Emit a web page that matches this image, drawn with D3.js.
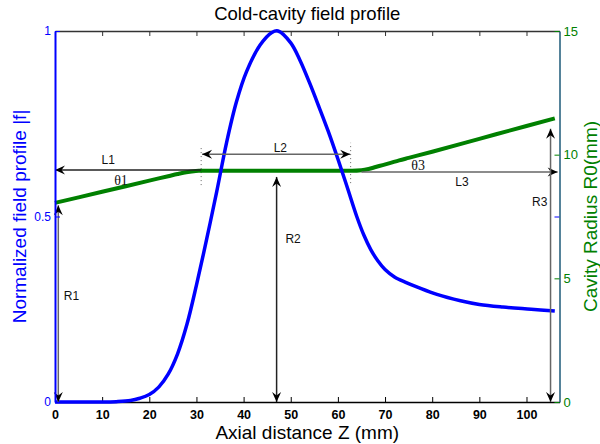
<!DOCTYPE html>
<html>
<head>
<meta charset="utf-8">
<script src="https://cdn.jsdelivr.net/npm/d3@7"></script>
<style>
  body { margin: 0; background: #fff; }
  text { font-family: "Liberation Sans", Arial, Helvetica, sans-serif; }
</style>
</head>
<body>
<div id="chart"></div>
<script>
// field profile |f| vs axial distance (mm)
const zField = [0, 5, 10, 13, 16, 18, 20, 22, 24, 26, 28, 30, 32.2, 34.3, 36.4, 38.5, 40.6, 43.5, 46, 47.3,
  50, 52, 54, 56, 58, 60, 62, 64, 65.5, 67, 68.5, 70, 72, 74.5, 77, 81, 86, 90, 95, 101, 106];
const fField = [0, 0, 0, 0.001, 0.004, 0.01, 0.02, 0.04, 0.075, 0.13, 0.21, 0.315, 0.441, 0.567, 0.7, 0.81, 0.89, 0.962, 0.996, 1,
  0.968, 0.92, 0.86, 0.795, 0.728, 0.655, 0.578, 0.5, 0.45, 0.41, 0.38, 0.357, 0.337, 0.322, 0.309, 0.29, 0.273, 0.263, 0.256, 0.25, 0.245];

// cavity radius R0 (mm)
const zRadius = [0, 10, 20, 24, 26, 27.5, 29, 30.5, 32, 40, 50, 60, 63, 65, 66.5, 68, 69.5, 71, 73, 75, 80, 90, 100, 106];
const rRadius = [8.05, 8.5, 8.95, 9.13, 9.22, 9.28, 9.32, 9.345, 9.35, 9.35, 9.35, 9.35, 9.35, 9.37, 9.42, 9.5, 9.58, 9.66, 9.77, 9.87, 10.12, 10.64, 11.16, 11.47];

const xTicks = [0, 10, 20, 30, 40, 50, 60, 70, 80, 90, 100];
const leftTicks = [0, 0.5, 1];
const rightTicks = [0, 5, 10, 15];

// annotation arrows, in data units (z, R0)
const hArrows = [
  {name: "L1", z0: 31, z1: 0, r: 9.38, heads: "end", color: "#222"},
  {name: "L2", z0: 31.2, z1: 62.6, r: 10.02, heads: "both", color: "#666"},
  {name: "L3", z0: 65, z1: 106.6, r: 9.3, heads: "end", color: "#666"}
];
const vArrows = [
  {name: "R1", z: 0.7, r0: 0, r1: 7.95, color: "#666"},
  {name: "R2", z: 47, r0: 0, r1: 9.1, color: "#222"},
  {name: "R3", z: 105.1, r0: 0, r1: 11.05, color: "#666"}
];
const dottedLines = [{z: 31, r0: 8.77, r1: 10.35}, {z: 62.7, r0: 8.85, r1: 10.48}];
const labels = [
  {text: "L1", z: 11.3, r: 9.78, serif: false},
  {text: "\u03b81", z: 14, r: 8.95, serif: true},
  {text: "L2", z: 47.8, r: 10.25, serif: false},
  {text: "\u03b83", z: 77, r: 9.56, serif: true},
  {text: "L3", z: 86.3, r: 8.88, serif: false},
  {text: "R1", z: 3.5, r: 4.3, serif: false},
  {text: "R2", z: 50.5, r: 6.6, serif: false},
  {text: "R3", z: 102.8, r: 8.1, serif: false}
];

let margin = {top: 31, right: 40.5, bottom: 42, left: 55};
let width = 600 - margin.left - margin.right;
let height = 444 - margin.top - margin.bottom;

let svg = d3.select("#chart").append("svg")
  .attr("width", 600)
  .attr("height", 444);

let g = svg.append("g")
  .attr("transform", "translate(" + margin.left + "," + margin.top + ")");

let x = d3.scaleLinear().domain([0, 107]).range([0, width]);
let yL = d3.scaleLinear().domain([0, 1]).range([height, 0]);
let yR = d3.scaleLinear().domain([0, 15]).range([height, 0]);

// arrowhead
let defs = svg.append("defs");
defs.append("marker")
  .attr("id", "head")
  .attr("viewBox", "-11 -5 12 10")
  .attr("refX", 0).attr("refY", 0)
  .attr("markerWidth", 12).attr("markerHeight", 10)
  .attr("markerUnits", "userSpaceOnUse")
  .attr("orient", "auto-start-reverse")
  .append("path")
  .attr("d", "M0,0 L-10,-4.5 L-6.5,0 L-10,4.5 Z")
  .attr("fill", "#000");

// axes
let xBottom = d3.axisBottom(x).tickValues(xTicks).tickSizeInner(-5).tickSizeOuter(0).tickPadding(8);
let xTop = d3.axisTop(x).tickValues(xTicks).tickSizeInner(-5).tickSizeOuter(0).tickFormat("");
let axL = d3.axisLeft(yL).tickValues(leftTicks).tickSizeInner(-5).tickSizeOuter(0).tickPadding(4).tickFormat(d3.format("~g"));
let axR = d3.axisRight(yR).tickValues(rightTicks).tickSizeInner(-5).tickSizeOuter(0).tickPadding(4);
let axRmirror = d3.axisRight(yL).tickValues([0.5]).tickSizeInner(-5).tickSizeOuter(0).tickFormat("");

g.append("g").attr("class", "x-top").call(xTop)
  .call(a => a.select(".domain").attr("stroke", "#333").attr("stroke-width", 1.5))
  .call(a => a.selectAll(".tick line").attr("stroke", "#333"));

g.append("g").attr("class", "x-axis").attr("transform", "translate(0," + height + ")").call(xBottom)
  .call(a => a.select(".domain").attr("stroke", "#000").attr("stroke-width", 1.5))
  .call(a => a.selectAll(".tick text").attr("font-size", 12.5).attr("font-weight", "bold").attr("fill", "#000"));

g.append("g").attr("class", "y-right-mirror").attr("transform", "translate(" + width + ",0)").call(axRmirror)
  .call(a => a.select(".domain").remove())
  .call(a => a.selectAll(".tick line").attr("stroke", "#0000ff"));

g.append("g").attr("class", "y-right").attr("transform", "translate(" + width + ",0)").call(axR)
  .call(a => a.select(".domain").attr("stroke", "#1d5a78").attr("stroke-width", 1.5))
  .call(a => a.selectAll(".tick line").attr("stroke", "#008000"))
  .call(a => a.selectAll(".tick text").attr("font-size", 13).attr("fill", "#008000"));

// dotted guides
g.selectAll(".guide").data(dottedLines).enter().append("line")
  .attr("class", "guide")
  .attr("x1", d => x(d.z)).attr("x2", d => x(d.z))
  .attr("y1", d => yR(d.r0)).attr("y2", d => yR(d.r1))
  .attr("stroke", "#666").attr("stroke-width", 1).attr("stroke-dasharray", "1,3");

// curves
let fieldLine = d3.line()
  .x((d, i) => x(zField[i]))
  .y(d => yL(d))
  .curve(d3.curveCatmullRom.alpha(0.5));

let radiusLine = d3.line()
  .x((d, i) => x(zRadius[i]))
  .y(d => yR(d))
  .curve(d3.curveMonotoneX);

g.append("path").datum(rRadius)
  .attr("d", radiusLine)
  .attr("fill", "none").attr("stroke", "#008000").attr("stroke-width", 4);

g.append("path").datum(fField)
  .attr("d", fieldLine)
  .attr("fill", "none").attr("stroke", "#0000ff").attr("stroke-width", 3.5)
  .attr("stroke-linejoin", "round");

// arrows
g.selectAll(".harrow").data(hArrows).enter().append("line")
  .attr("class", "harrow")
  .attr("x1", d => x(d.z0)).attr("x2", d => x(d.z1))
  .attr("y1", d => yR(d.r)).attr("y2", d => yR(d.r))
  .attr("stroke", d => d.color).attr("stroke-width", 1.5)
  .attr("marker-end", "url(#head)")
  .attr("marker-start", d => d.heads === "both" ? "url(#head)" : null);

g.selectAll(".varrow").data(vArrows).enter().append("line")
  .attr("class", "varrow")
  .attr("x1", d => x(d.z)).attr("x2", d => x(d.z))
  .attr("y1", d => yR(d.r0)).attr("y2", d => yR(d.r1))
  .attr("stroke", d => d.color).attr("stroke-width", 1.5)
  .attr("marker-start", "url(#head)")
  .attr("marker-end", "url(#head)");

// left axis drawn last so blue line sits on top
g.append("g").attr("class", "y-left").call(axL)
  .call(a => a.select(".domain").attr("stroke", "#0000ff").attr("stroke-width", 2))
  .call(a => a.selectAll(".tick line").attr("stroke", "#0000ff"))
  .call(a => a.selectAll(".tick text").attr("font-size", 12).attr("fill", "#0000ff"));

// annotation labels
g.selectAll(".ann").data(labels).enter().append("text")
  .attr("class", "ann")
  .attr("x", d => x(d.z)).attr("y", d => yR(d.r))
  .attr("text-anchor", "middle")
  .attr("dominant-baseline", "central")
  .style("font-family", d => d.serif ? "'Liberation Serif', 'Times New Roman', serif" : null)
  .attr("font-size", d => d.serif ? 14 : 12)
  .attr("fill", "#111")
  .text(d => d.text);

// titles
svg.append("text")
  .attr("x", margin.left + width / 2).attr("y", 20)
  .attr("text-anchor", "middle").attr("font-size", 18.5).attr("fill", "#000")
  .text("Cold-cavity field profile");

svg.append("text")
  .attr("x", margin.left + width / 2).attr("y", 439)
  .attr("text-anchor", "middle").attr("font-size", 19).attr("fill", "#000")
  .text("Axial distance Z (mm)");

svg.append("text")
  .attr("transform", "translate(26," + (margin.top + height / 2) + ") rotate(-90)")
  .attr("text-anchor", "middle").attr("font-size", 19).attr("fill", "#0000ff")
  .text("Normalized field profile |f|");

svg.append("text")
  .attr("transform", "translate(597," + (margin.top + height / 2) + ") rotate(-90)")
  .attr("text-anchor", "middle").attr("font-size", 19).attr("fill", "#008000")
  .text("Cavity Radius R0(mm)");
</script>
</body>
</html>
